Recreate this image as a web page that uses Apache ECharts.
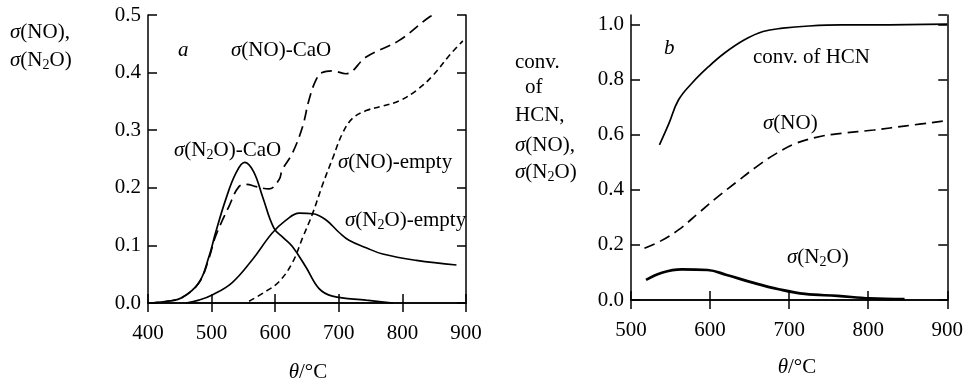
<!DOCTYPE html>
<html>
<head>
<meta charset="utf-8">
<style>
  html, body { margin: 0; padding: 0; background: #fff; }
  #chart { width: 966px; height: 379px; }
</style>
<script src="https://cdn.jsdelivr.net/npm/echarts@6/dist/echarts.min.js"></script>
</head>
<body>
<div id="chart"></div>
<script>
// panel a: selectivities, CaO bed vs empty reactor
const tempN2oCaO = [400, 430, 453, 480, 496, 506, 522, 538, 552, 566, 580, 598, 613, 627, 648, 669, 690, 743, 785];
const n2oCaO = [0, 0.003, 0.009, 0.035, 0.081, 0.121, 0.179, 0.225, 0.244, 0.228, 0.185, 0.13, 0.113, 0.098, 0.063, 0.025, 0.012, 0.005, 0];

const tempNoCaO = [400, 430, 453, 480, 496, 506, 527, 543, 555, 570, 590, 606, 611, 627, 643, 653, 664, 674, 690, 711, 743, 795, 843, 852];
const noCaO = [0, 0.003, 0.009, 0.035, 0.078, 0.115, 0.167, 0.202, 0.206, 0.202, 0.198, 0.214, 0.231, 0.26, 0.306, 0.352, 0.387, 0.4, 0.403, 0.398, 0.427, 0.456, 0.497, 0.5];

const tempN2oEmpty = [460, 480, 501, 532, 564, 595, 617, 638, 659, 679, 701, 716, 743, 769, 822, 885];
const n2oEmpty = [0, 0.005, 0.014, 0.035, 0.075, 0.121, 0.144, 0.156, 0.155, 0.145, 0.122, 0.109, 0.096, 0.085, 0.074, 0.066];

const tempNoEmpty = [559, 585, 606, 627, 643, 659, 675, 691, 706, 722, 743, 769, 795, 822, 848, 874, 895];
const noEmpty = [0.003, 0.02, 0.037, 0.07, 0.113, 0.156, 0.207, 0.253, 0.295, 0.321, 0.334, 0.342, 0.351, 0.369, 0.395, 0.43, 0.455];

// panel b
const tempHcn = [536, 548, 560, 577, 598, 618, 643, 667, 692, 725, 766, 807, 900];
const convHcn = [0.564, 0.642, 0.727, 0.788, 0.848, 0.897, 0.945, 0.976, 0.988, 0.996, 1.0, 1.0, 1.003];

const tempNo = [517, 536, 560, 585, 610, 634, 659, 684, 709, 742, 766, 807, 848, 900];
const selNo = [0.188, 0.212, 0.255, 0.315, 0.376, 0.43, 0.485, 0.533, 0.57, 0.596, 0.606, 0.618, 0.633, 0.652];

const tempN2o = [519, 539, 564, 597, 621, 654, 687, 720, 761, 802, 846];
const selN2o = [0.073, 0.099, 0.111, 0.109, 0.091, 0.063, 0.039, 0.022, 0.015, 0.006, 0.003];

const FONT = 'Liberation Serif';
const INK = '#000';

function zip(xs, ys) {
    return xs.map((x, i) => [x, ys[i]]);
}

// σ and θ italic, ₂ as a subscript
function toRich(s) {
    return s.replace(/[^σθ₂]+/g, m => '{n|' + m + '}')
        .replace(/σ/g, '{i|σ}')
        .replace(/θ/g, '{i|θ}')
        .replace(/₂/g, '{s|2}');
}

const rich = {
    n: { fontFamily: FONT, fontSize: 21, lineHeight: 24, fill: INK },
    i: { fontFamily: FONT, fontSize: 21, lineHeight: 24, fontStyle: 'italic', fill: INK },
    s: { fontFamily: FONT, fontSize: 14, lineHeight: 13, verticalAlign: 'bottom', fill: INK }
};

function label(x, y, text, align) {
    return {
        type: 'text',
        x: x,
        y: y,
        style: {
            text: toRich(text),
            rich: rich,
            align: align || 'left',
            verticalAlign: 'middle'
        }
    };
}

function italic(x, y, text) {
    return {
        type: 'text',
        x: x,
        y: y,
        style: {
            text: text,
            fontFamily: FONT,
            fontSize: 21,
            fontStyle: 'italic',
            fill: INK,
            verticalAlign: 'middle'
        }
    };
}

function xAxis(grid, min, max, pos) {
    return {
        type: 'value',
        gridIndex: grid,
        position: pos,
        min: min,
        max: max,
        interval: 100,
        splitLine: { show: false },
        axisLine: { show: true, lineStyle: { color: INK, width: 1.5 } },
        axisTick: { show: true, inside: true, length: 9, lineStyle: { color: INK, width: 1.5 } },
        axisLabel: {
            show: pos === 'bottom',
            margin: 20,
            color: INK,
            fontFamily: FONT,
            fontSize: 21
        }
    };
}

function yAxis(grid, max, interval, pos) {
    return {
        type: 'value',
        gridIndex: grid,
        position: pos,
        min: 0,
        max: max,
        interval: interval,
        splitLine: { show: false },
        axisLine: { show: true, lineStyle: { color: INK, width: 1.5 } },
        axisTick: { show: true, inside: true, length: 9, lineStyle: { color: INK, width: 1.5 } },
        axisLabel: {
            show: pos === 'left',
            showMaxLabel: interval === 0.1,
            margin: 7,
            color: INK,
            fontFamily: FONT,
            fontSize: 21,
            formatter: v => v.toFixed(1)
        }
    };
}

function line(name, xi, yi, data, width, dash) {
    return {
        name: name,
        type: 'line',
        xAxisIndex: xi,
        yAxisIndex: yi,
        data: data,
        smooth: 0.4,
        showSymbol: false,
        clip: true,
        lineStyle: { color: INK, width: width, type: dash || 'solid' }
    };
}

const chart = echarts.init(document.getElementById('chart'));

const option = {
    animation: false,
    backgroundColor: '#fff',
    grid: [
        { left: 148, width: 318, top: 15, height: 288 },
        { left: 631, width: 323, top: 15, height: 285 }
    ],
    xAxis: [
        xAxis(0, 400, 900, 'bottom'),
        xAxis(0, 400, 900, 'top'),
        xAxis(1, 500, 900, 'bottom'),
        xAxis(1, 500, 900, 'top')
    ],
    yAxis: [
        yAxis(0, 0.5, 0.1, 'left'),
        yAxis(0, 0.5, 0.1, 'right'),
        yAxis(1, 1.036, 0.2, 'left'),
        yAxis(1, 1.036, 0.2, 'right')
    ],
    series: [
        line('σ(N2O)-CaO', 0, 0, zip(tempN2oCaO, n2oCaO), 1.7),
        line('σ(NO)-CaO', 0, 0, zip(tempNoCaO, noCaO), 1.7, [11, 6]),
        line('σ(N2O)-empty', 0, 0, zip(tempN2oEmpty, n2oEmpty), 1.6),
        line('σ(NO)-empty', 0, 0, zip(tempNoEmpty, noEmpty), 1.6, [6, 4]),
        line('conv. of HCN', 2, 2, zip(tempHcn, convHcn), 1.7),
        line('σ(NO)', 2, 2, zip(tempNo, selNo), 1.7, [11, 6]),
        line('σ(N2O)', 2, 2, zip(tempN2o, selN2o), 2.7)
    ],
    graphic: [
        label(10, 32, 'σ(NO),'),
        label(10, 60, 'σ(N₂O)'),
        italic(178, 50, 'a'),
        label(231, 50, 'σ(NO)-CaO'),
        label(174, 150, 'σ(N₂O)-CaO'),
        label(338, 162, 'σ(NO)-empty'),
        label(345, 220, 'σ(N₂O)-empty'),
        label(308, 372, 'θ/°C', 'center'),

        label(515, 62, 'conv.'),
        label(525, 87, 'of'),
        label(515, 115, 'HCN,'),
        label(515, 145, 'σ(NO),'),
        label(515, 172, 'σ(N₂O)'),
        italic(664, 48, 'b'),
        label(753, 57, 'conv. of HCN'),
        label(763, 123, 'σ(NO)'),
        label(787, 257, 'σ(N₂O)'),
        label(797, 367, 'θ/°C', 'center')
    ]
};

chart.setOption(option);
</script>
</body>
</html>
